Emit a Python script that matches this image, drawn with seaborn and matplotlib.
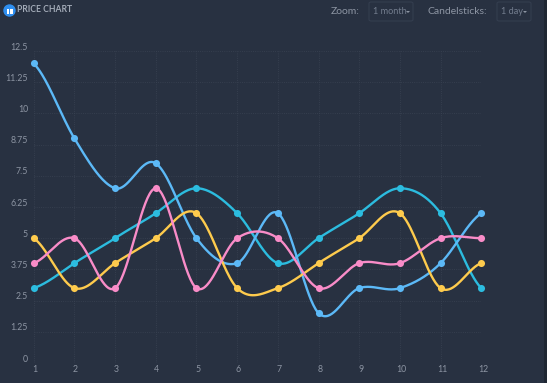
import numpy as np
import matplotlib
matplotlib.use("Agg")
import matplotlib.pyplot as plt
from matplotlib.patches import Ellipse, FancyBboxPatch, Rectangle
import seaborn as sns

#--------------------------------Data----------------------------#
months = [1, 2, 3, 4, 5, 6, 7, 8, 9, 10, 11, 12]
blue = [12, 9, 7, 8, 5, 4, 6, 2, 3, 3, 4, 6]
cyan = [3, 4, 5, 6, 7, 6, 4, 5, 6, 7, 6, 3]
yellow = [5, 3, 4, 5, 6, 3, 3, 4, 5, 6, 3, 4]
pink = [4, 5, 3, 7, 3, 5, 5, 3, 4, 4, 5, 5]
y_ticks = [0, 1.25, 2.5, 3.75, 5, 6.25, 7.5, 8.75, 10, 11.25, 12.5]
y_labels = ["0", "1.25", "2.5", "3.75", "5", "6.25", "7.5", "8.75", "10", "11.25", "12.5"]

BG = "#283141"
TXT = "#8d95a3"
W, H = 547, 383

#--------------------------------Helpers----------------------------#
# bezier through the points, same idea as the svg smooth line
def smooth(xs, ys, t=0.18, n=40):
    xs = np.array(xs, dtype=float)
    ys = np.array(ys, dtype=float)
    out_x, out_y = [], []
    for i in range(len(xs) - 1):
        y_prev = ys[max(i - 1, 0)]
        y_next = ys[min(i + 2, len(ys) - 1)]
        c1 = ys[i] + t * (ys[i + 1] - y_prev)
        c2 = ys[i + 1] - t * (y_next - ys[i])
        x1 = xs[i] + (xs[i + 1] - xs[i]) / 3
        x2 = xs[i + 1] - (xs[i + 1] - xs[i]) / 3
        s = np.linspace(0, 1, n)
        out_x.extend((1-s)**3*xs[i] + 3*(1-s)**2*s*x1 + 3*(1-s)*s**2*x2 + s**3*xs[i+1])
        out_y.extend((1-s)**3*ys[i] + 3*(1-s)**2*s*c1 + 3*(1-s)*s**2*c2 + s**3*ys[i+1])
    return out_x, out_y

def px(x, y):
    return x / W, 1 - y / H

#--------------------------------Figure----------------------------#
sns.set_theme(style="dark")
plt.rcParams["font.family"] = ["Lato", "DejaVu Sans"]

fig = plt.figure(figsize=(W / 100, H / 100), dpi=100, facecolor=BG)
ax = fig.add_axes([33.7 / W, 1 - 363 / H, (481.3 - 33.7) / W, (363 - 51) / H])
ax.set_facecolor(BG)

series = [(cyan, "#2cbcdf"), (blue, "#5cb9f7"), (yellow, "#fecb4d"), (pink, "#f98cc8")]
for vals, col in series:
    sx, sy = smooth(months, vals)
    sns.lineplot(x=sx, y=sy, sort=False, estimator=None, color=col, linewidth=1.7, ax=ax, clip_on=False)
    sns.scatterplot(x=months, y=vals, color=col, s=26, linewidth=0, ax=ax, clip_on=False, zorder=5)

ax.set_xlim(1, 12)
ax.set_ylim(0, 12.5)
ax.set_xticks(months)
ax.set_yticks(y_ticks)
ax.set_xticklabels([])
ax.set_yticklabels([])
ax.grid(True, color="#3a4353", linestyle=":", linewidth=0.6)
ax.set_axisbelow(True)
sns.despine(ax=ax, left=True, bottom=True)
ax.tick_params(length=0)

# tick labels sit a bit off the grid in the reference
for m in months:
    fig.text(*px(34.5 + (m - 1) * 40.8, 369.5), str(m), color=TXT, fontsize=6.3, ha="center", va="center")
for v, lab in zip(y_ticks, y_labels):
    fig.text(*px(28, 363 - v * 24.96 - 4), lab, color=TXT, fontsize=6.3, ha="right", va="center")

#--------------------------------Header----------------------------#
fig.add_artist(Ellipse(px(9.5, 10.5), 11 / W, 11 / H, transform=fig.transFigure, color="#2f8ff0"))
fig.add_artist(Rectangle(px(6.5, 13.5), 6 / W, 5 / H, transform=fig.transFigure, color="white", lw=0))
fig.add_artist(Rectangle(px(8.9, 13.5), 1.2 / W, 5 / H, transform=fig.transFigure, color="#2f8ff0", lw=0))
fig.text(*px(17, 10), "PRICE CHART", color="#a3abb8", fontsize=6.2, fontweight="bold", va="center")

fig.text(*px(360, 11), "Zoom:", color=TXT, fontsize=7.5, va="center", ha="right")
fig.text(*px(373, 12), "1 month", color="#737d8e", fontsize=6.6, va="center")
fig.text(*px(427, 11), "Candelsticks:", color=TXT, fontsize=7.5, va="center")
fig.text(*px(501, 12), "1 day", color="#737d8e", fontsize=6.6, va="center")
for x0, x1 in [(369, 413), (497, 531)]:
    fig.add_artist(FancyBboxPatch(px(x0, 21), (x1 - x0) / W, 19 / H, boxstyle="round,pad=0,rounding_size=0.004",
                                  transform=fig.transFigure, fc="none", ec="#343e4f", lw=0.8))
for xc in (408, 525):
    fig.add_artist(plt.Polygon([px(xc - 2, 11), px(xc + 2, 11), px(xc, 13)], transform=fig.transFigure, color="#8d95a3", lw=0))

# darker strip on the right edge
fig.add_artist(Rectangle(px(544, H), 3 / W, 1, transform=fig.transFigure, color="#1f2733", lw=0))

fig.savefig("out.png", dpi=100, facecolor=BG)
